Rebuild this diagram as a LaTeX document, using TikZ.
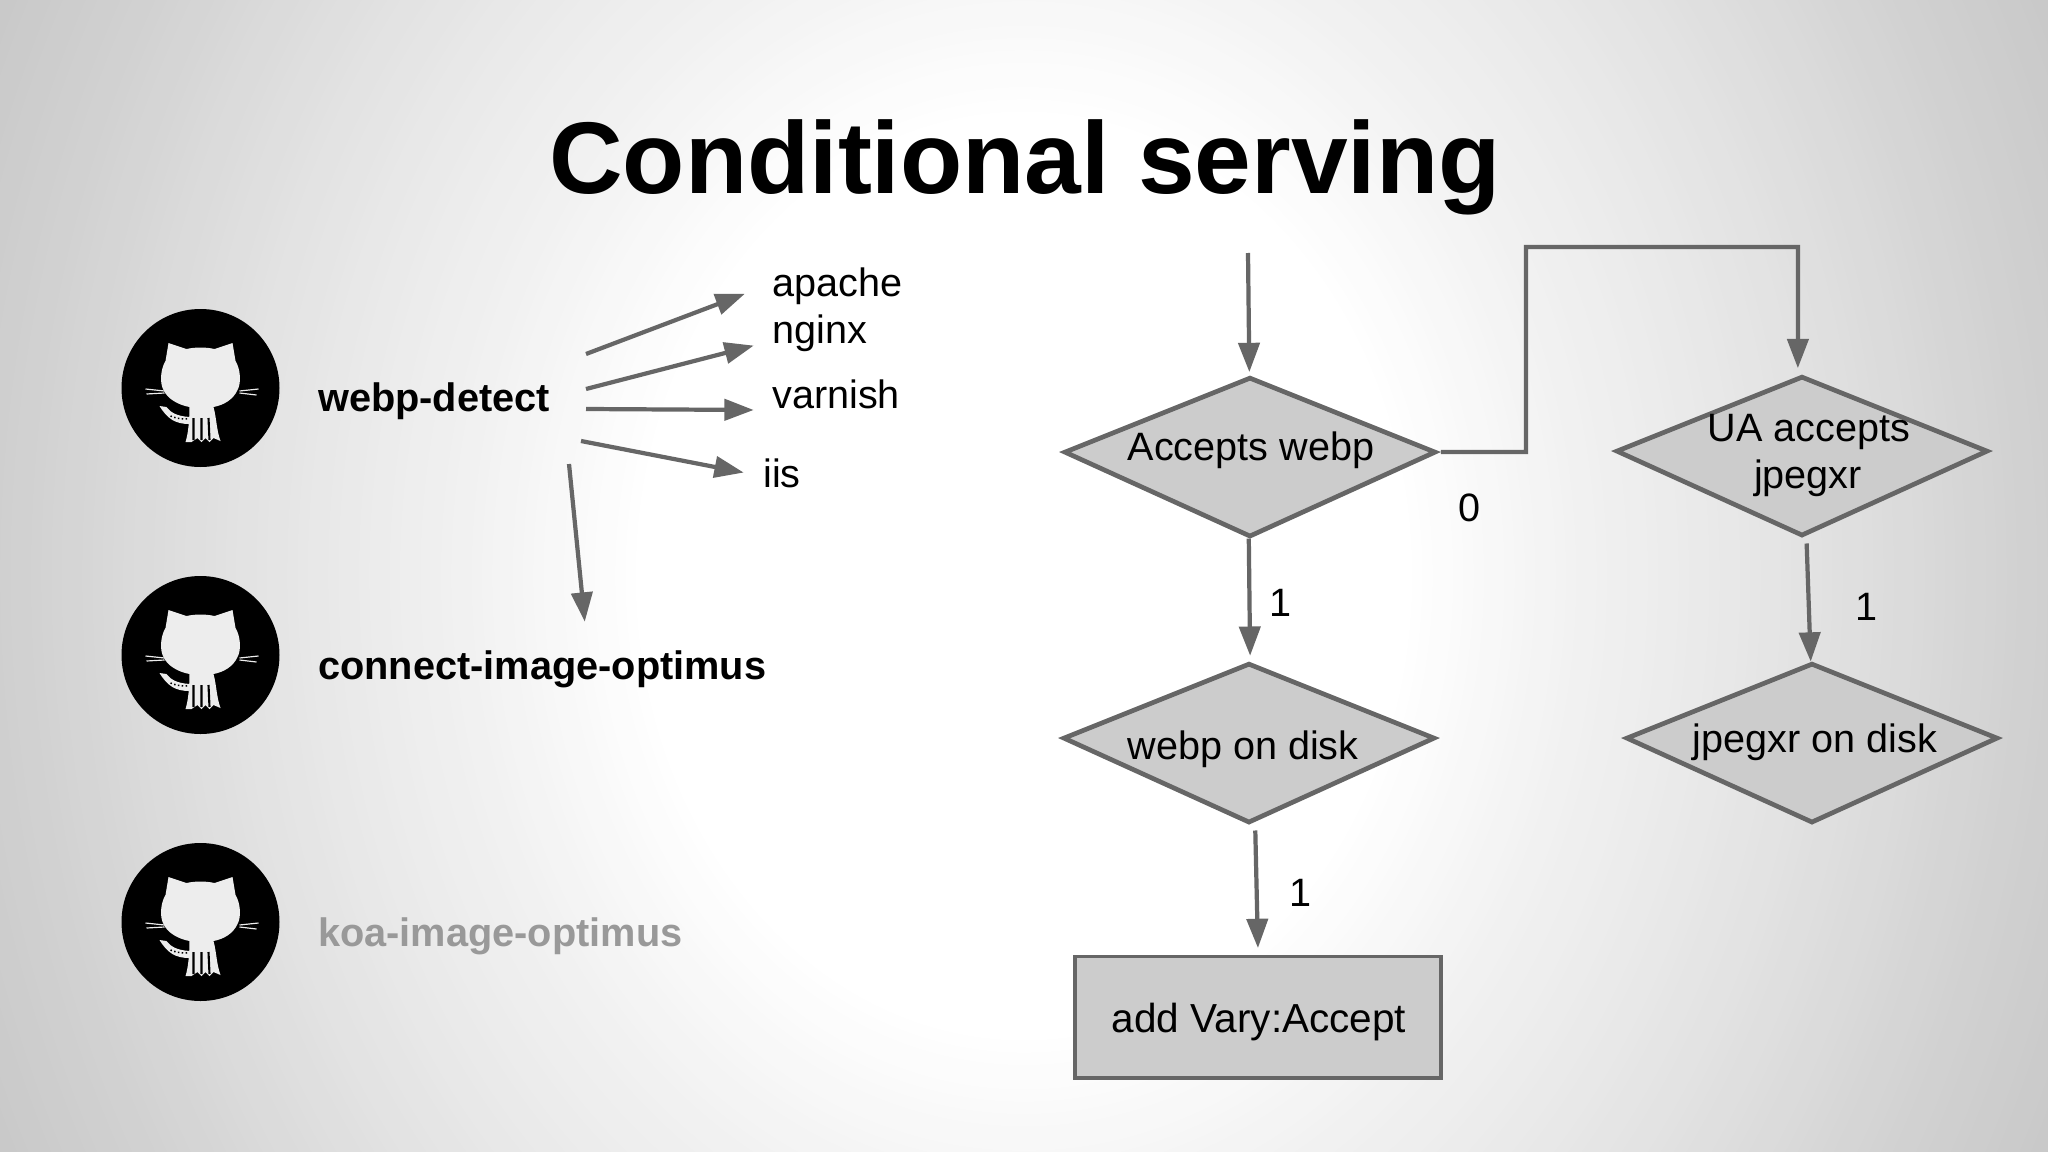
\documentclass[tikz,border=0pt]{standalone}
\usepackage{fontspec}
\setmainfont{Liberation Sans}
\usetikzlibrary{arrows.meta, shapes.geometric}

\tikzset{
    flow/.style={draw=arrowgray, line width=3.6pt, shorten >=2pt, -{Triangle[length=25pt, width=18pt]}},
    decision/.style={kite, kite upper vertex angle=136.4, kite lower vertex angle=131.2,
        anchor=left vertex, draw=arrowgray, fill=black!20, line width=4pt, inner sep=0pt,
        minimum width=11.15cm, minimum height=4.75cm},
    outcome/.style={rectangle, draw=arrowgray, fill=black!20, line width=3.4pt, inner sep=0pt,
        minimum width=10.98cm, minimum height=3.63cm},
    body/.style={font=\fontsize{33.8}{38}\selectfont, anchor=base, inner sep=0pt},
    lefttext/.style={body, anchor=base west},
    repo/.style={lefttext, font=\fontsize{33.9}{38}\selectfont\bfseries},
    octocat/.pic={
        \fill[black] (0,0) circle (79);
        \fill[catwhite] (-35,-27) -- (-32,-45) -- (-14,-39) .. controls (-5,-41) and (5,-41) .. (14,-39)
            -- (32,-45) -- (35,-27) .. controls (40,-19) and (41,-5) .. (37,2)
            .. controls (33,11) and (24,17) .. (13,19) .. controls (16,30) and (16,42) .. (20,53)
            -- (13,50) -- (9,54) -- (5,50) -- (1,54) -- (-3,50) -- (-9,54) -- (-15,54)
            .. controls (-12,45) and (-11,30) .. (-11,19)
            .. controls (-22,17) and (-33,11) .. (-37,2) .. controls (-41,-5) and (-40,-19) .. (-35,-27) -- cycle;
        \fill[catwhite] (-41,18) -- (-34,19) .. controls (-30,24) and (-25,28) .. (-11,29) -- (-11,36)
            .. controls (-25,36) and (-33,31) .. (-41,18) -- cycle;
        \draw[black, line width=1.8pt] (-7,30) -- (-7,52) (1,30) -- (1,52) (8,30) -- (9,52);
        \draw[black, line width=1.3pt, dotted] (-30,28) .. controls (-26,30) and (-20,31) .. (-13,31);
        \draw[catwhite, line width=1pt] (-55,1) -- (-36,3) (-54,6) -- (-36,5) (39,3) -- (58,1) (39,5) -- (56,7);
    }
}
\definecolor{arrowgray}{HTML}{666666}
\definecolor{catwhite}{HTML}{EDEDED}

\begin{document}
\begin{tikzpicture}[x=0.03cm, y=-0.03cm]
    \useasboundingbox (0,0) rectangle (2048,1152);
    % slide background, white in the middle
    \begin{scope}
        \clip (0,0) rectangle (2048,1152);
        \foreach \d in {1.16,1.15,...,0.37} {
            \pgfmathsetmacro\amt{\d<0.5 ? max(0,33*(\d-0.38)) : (\d<0.75 ? 4+26*(\d-0.5) : (\d<1 ? 10.5+32*(\d-0.75) : 18.5+25*(\d-1)))}
            \fill[black!\amt!white] (1024,576) ellipse ({1024*\d} and {1225*\d});
        }
    \end{scope}

    \node[lefttext, font=\fontsize{87}{96}\selectfont\bfseries] (title) at (549,193) {Conditional serving};

    % repositories
    \foreach \caty in {388,655,922}
        \pic at (200.5,\caty) {octocat};
    \node[repo] (webpdetect) at (318,411) {webp-detect};
    \node[repo] (connectopt) at (318,679) {connect-image-optimus};
    \node[repo, text=black!40] (koaopt) at (318,946) {koa-image-optimus};

    % servers
    \node[lefttext] (apache) at (772,296) {apache};
    \node[lefttext] (nginx) at (772,343) {nginx};
    \node[lefttext] (varnish) at (772,408) {varnish};
    \node[lefttext] (iis) at (763,487) {iis};

    \coordinate (froma) at (586,354);
    \coordinate (toa) at (747,293);
    \coordinate (fromb) at (586,389);
    \coordinate (tob) at (756,345);
    \coordinate (fromc) at (586,409);
    \coordinate (toc) at (756,410);
    \coordinate (fromd) at (581,441);
    \coordinate (tod) at (746,473);
    \coordinate (frome) at (569,464);
    \coordinate (toe) at (585,624);
    \draw[flow] (froma) -- (toa);
    \draw[flow] (fromb) -- (tob);
    \draw[flow] (fromc) -- (toc);
    \draw[flow] (fromd) -- (tod);
    \draw[flow] (frome) -- (toe);

    % decisions
    \node[decision] (accepts) at (1059,452) {\phantom{x}};
    \node[decision] (uaccepts) at (1611,451) {\phantom{x}};
    \node[decision] (webpdisk) at (1058,738) {\phantom{x}};
    \node[decision] (jpegdisk) at (1621,738) {\phantom{x}};
    \node[outcome] (vary) at (1258,1017) {};

    \node[body] (acceptstext) at (1251,460) {Accepts webp};
    \node[body] (uatext) at (1809,441) {UA accepts};
    \node[body] (jpegxrtext) at (1808,488) {jpegxr};
    \node[body] (webpdisktext) at (1243,759) {webp on disk};
    \node[body] (jpegdisktext) at (1815,752) {jpegxr on disk};
    \node[body, font=\fontsize{34.6}{38}\selectfont] (varytext) at (1259,1032) {add Vary:Accept};

    \node[body] (zero) at (1469,521) {0};
    \node[body] (onea) at (1280,616) {1};
    \node[body] (oneb) at (1866,620) {1};
    \node[body] (onec) at (1300,906) {1};

    \coordinate (entry) at (1248,253);
    \coordinate (elbowa) at (1526,452);
    \coordinate (elbowb) at (1526,247);
    \coordinate (elbowc) at (1798,247);
    \draw[flow] (entry) -- ([xshift=-0.5pt, yshift=1pt]accepts.upper vertex);
    \draw[flow] (accepts.right vertex) -- (elbowa) -- (elbowb) -- (elbowc) -- ([xshift=-3.5pt, yshift=3.5pt]uaccepts.upper vertex);
    \draw[flow] ([xshift=-1pt]accepts.lower vertex) -- ([xshift=1pt, yshift=3pt]webpdisk.upper vertex);
    \draw[flow] ([xshift=4pt, yshift=-5pt]uaccepts.lower vertex) -- ([xshift=-1pt, yshift=-2pt]jpegdisk.upper vertex);
    \draw[flow] ([xshift=5.4pt, yshift=-5pt]webpdisk.lower vertex) -- ([xshift=0pt, yshift=3.5pt]vary.north);

\end{tikzpicture}
\end{document}
